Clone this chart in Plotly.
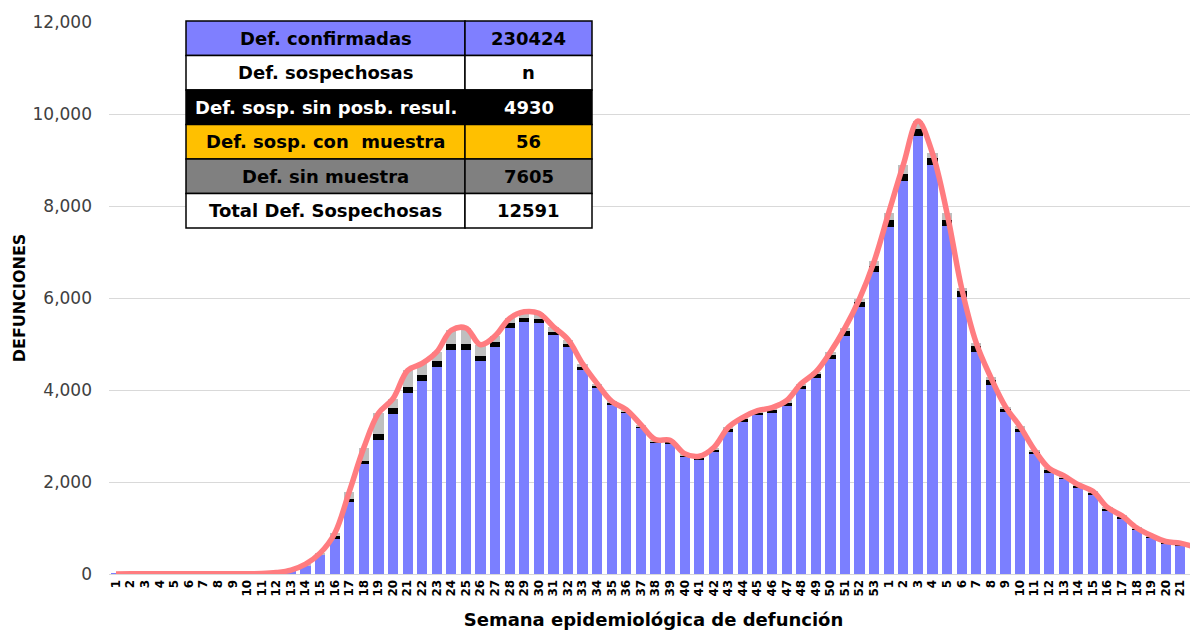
import plotly.graph_objects as go

# ---- data ----
week_labels = [str(i) for i in range(1, 54)] + [str(i) for i in range(1, 23)]

confirmadas = [2, 5, 8, 5, 4, 3, 3, 4, 5, 6, 10, 25, 70,
               180, 413, 776, 1565, 2390, 2913, 3478,
               3935, 4196, 4500, 4870, 4870, 4630, 4935,
               5348, 5478, 5456, 5196, 4935, 4435, 4043,
               3674, 3493, 3167, 2841, 2826, 2537, 2478,
               2659, 3094, 3311, 3457, 3507, 3652, 4015,
               4254, 4667, 5174, 5797, 6558,
               7551, 8543, 9522, 8891, 7565, 6029, 4834,
               4109, 3515, 3094, 2602, 2203, 2059, 1876,
               1733, 1391, 1210, 957, 790, 667, 630, 536]

sin_posib_resul = [0, 0, 0, 0, 0, 0, 0, 0, 0, 0, 0, 2, 5,
                   15, 20, 40, 65, 58, 130, 125,
                   135, 128, 128, 128, 128, 100, 100,
                   100, 92, 80, 60, 62, 55, 45,
                   45, 45, 45, 45, 48, 45, 45,
                   55, 60, 60, 60, 70, 75, 75,
                   85, 100, 110, 115, 130,
                   140, 155, 150, 150, 140, 128, 115,
                   100, 85, 78, 62, 62, 48, 40,
                   38, 32, 30, 27, 24, 22, 20, 18]

con_muestra = [0] * 67 + [2, 3, 4, 5, 6, 8, 12, 16]

sin_muestra = [0, 0, 0, 0, 0, 0, 0, 0, 0, 0, 0, 5, 10,
               20, 20, 65, 160, 300, 450, 210,
               355, 254, 200, 300, 350, 255, 140,
               110, 130, 130, 120, 100, 80, 50,
               35, 35, 35, 35, 35, 35, 35,
               35, 35, 35, 35, 40, 45, 50,
               55, 60, 65, 75, 110,
               165, 200, 175, 105, 135, 55, 75,
               65, 40, 35, 30, 30, 30, 25,
               25, 20, 20, 15, 15, 10, 10, 10]

table_labels = ["Def. confirmadas", "Def. sospechosas", "Def. sosp. sin posb. resul.",
                "Def. sosp. con  muestra", "Def. sin muestra", "Total Def. Sospechosas"]
table_values = ["230424", "n", "4930", "56", "7605", "12591"]
table_fills = ["#7F7FFF", "#FFFFFF", "#000000", "#FFC000", "#808080", "#FFFFFF"]
table_text_colors = ["#000000", "#000000", "#FFFFFF", "#000000", "#000000", "#000000"]

x = list(range(len(week_labels)))
totales = [a + b + c + d for a, b, c, d in zip(confirmadas, sin_posib_resul, con_muestra, sin_muestra)]

FONT = "DejaVu Sans"

fig = go.Figure()
fig.add_trace(go.Bar(x=x, y=confirmadas, marker=dict(color="#7B7FFF", line=dict(width=0)), name="Def. confirmadas"))
fig.add_trace(go.Bar(x=x, y=sin_posib_resul, marker=dict(color="#000000", line=dict(width=0)), name="Def. sosp. sin posb. resul."))
fig.add_trace(go.Bar(x=x, y=con_muestra, marker=dict(color="#FFC000", line=dict(width=0)), name="Def. sosp. con muestra"))
fig.add_trace(go.Bar(x=x, y=sin_muestra, marker=dict(color="#BFBFBF", line=dict(width=0)), name="Def. sin muestra"))
fig.add_trace(go.Scatter(x=x, y=totales, mode="lines",
                         line=dict(color="#FF7C80", width=5.5, shape="spline", smoothing=1.0),
                         name="Total"))

# page has an 8px body margin: figure occupies screen x 8..1198, y 8..630
OFF = 8
W, H = 1198 - OFF, 630 - OFF
L, R, T, B = 109 - OFF, 0, 22 - OFF, 56
pw, ph = W - L - R, H - T - B

def px_to_paper(px, py):
    # px, py in screen pixels
    return (px - OFF - L) / pw, (H - B - (py - OFF)) / ph

shapes = []
annotations = []
tx0, tx1, tx2 = 186, 465, 592
ty0, row_h = 21, 34.5
for i, (lab, val, fill, tc) in enumerate(zip(table_labels, table_values, table_fills, table_text_colors)):
    y_top = ty0 + i * row_h
    y_bot = y_top + row_h
    for (xa, xb) in [(tx0, tx1), (tx1, tx2)]:
        p0x, p0y = px_to_paper(xa, y_bot)
        p1x, p1y = px_to_paper(xb, y_top)
        shapes.append(dict(type="rect", xref="paper", yref="paper", x0=p0x, y0=p0y, x1=p1x, y1=p1y,
                           fillcolor=fill, line=dict(color="#000000", width=1.5), layer="above"))
    cx1, cy = px_to_paper((tx0 + tx1) / 2, (y_top + y_bot) / 2)
    cx2, _ = px_to_paper((tx1 + tx2) / 2, (y_top + y_bot) / 2)
    annotations.append(dict(x=cx1, y=cy, xref="paper", yref="paper", text="<b>%s</b>" % lab,
                            xanchor="center", yanchor="middle",
                            showarrow=False, font=dict(family=FONT, size=18, color=tc)))
    annotations.append(dict(x=cx2, y=cy, xref="paper", yref="paper", text="<b>%s</b>" % val,
                            xanchor="center", yanchor="middle",
                            showarrow=False, font=dict(family=FONT, size=18, color=tc)))

fig.update_layout(
    width=W, height=H,
    margin=dict(l=L, r=R, t=T, b=B, pad=0, autoexpand=False),
    barmode="stack",
    bargap=0.3,
    plot_bgcolor="#FFFFFF",
    paper_bgcolor="#FFFFFF",
    showlegend=False,
    font=dict(family=FONT, color="#404040"),
    shapes=shapes,
    annotations=annotations,
    xaxis=dict(
        automargin=False,
        tickmode="array", tickvals=x, ticktext=week_labels,
        tickangle=-90, tickfont=dict(family=FONT, size=12, color="#000000", weight="bold"),
        range=[-0.48, 74.21],
        showgrid=False, showline=True, linecolor="#D9D9D9", linewidth=1,
        ticks="", ticklen=0,
        title=dict(text="<b>Semana epidemiológica de defunción</b>",
                   font=dict(family=FONT, size=18, color="#000000"), standoff=17),
    ),
    yaxis=dict(
        automargin=False,
        range=[0, 12000], tickvals=[0, 2000, 4000, 6000, 8000, 10000, 12000],
        tickformat=",d",
        tickfont=dict(family=FONT, size=17, color="#404040"),
        showgrid=True, gridcolor="#D9D9D9", gridwidth=1,
        zeroline=False, ticks="", ticklabelstandoff=16,
        title=dict(text="<b>DEFUNCIONES</b>", font=dict(family=FONT, size=16, color="#000000"), standoff=2),
    ),
)

fig.write_html("out.html")
